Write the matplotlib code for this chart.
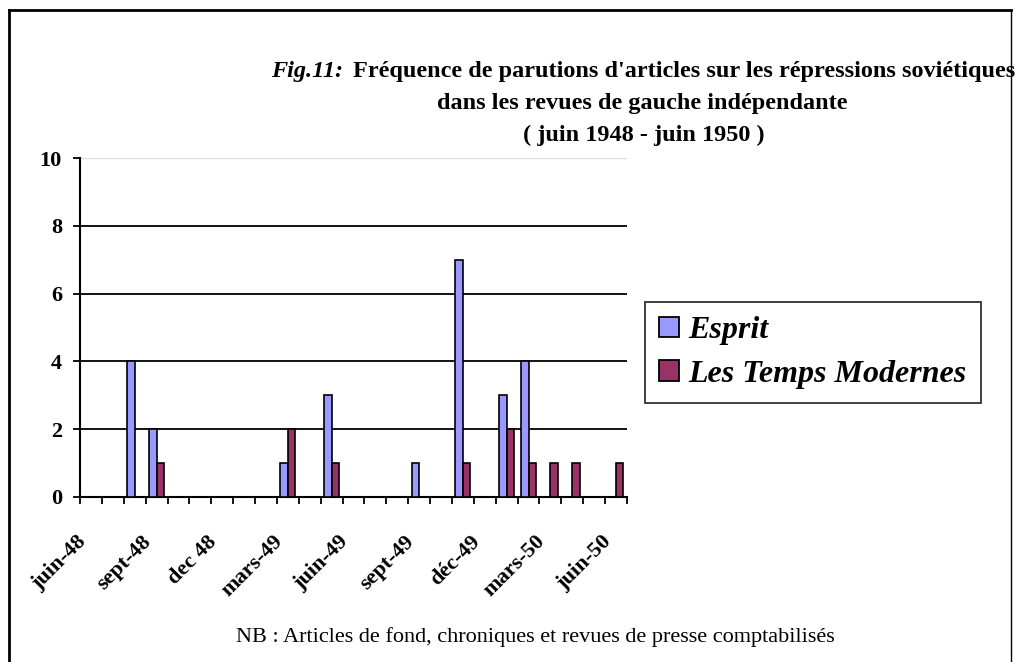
import matplotlib
matplotlib.use("Agg")
import matplotlib.pyplot as plt
from matplotlib.lines import Line2D
from matplotlib.transforms import ScaledTranslation
import numpy as np

months = ['juin-48', 'juil-48', 'août-48', 'sept-48', 'oct-48', 'nov-48', 'dec 48',
          'janv-49', 'févr-49', 'mars-49', 'avr-49', 'mai-49', 'juin-49', 'juil-49',
          'août-49', 'sept-49', 'oct-49', 'nov-49', 'déc-49', 'janv-50', 'févr-50',
          'mars-50', 'avr-50', 'mai-50', 'juin-50']
esprit = [0, 0, 4, 2, 0, 0, 0, 0, 0, 1, 0, 3, 0, 0, 0, 1, 0, 7, 0, 3, 4, 0, 0, 0, 0]
temps_modernes = [0, 0, 0, 1, 0, 0, 0, 0, 0, 2, 0, 1, 0, 0, 0, 0, 0, 1, 0, 2, 1, 1, 1, 0, 1]
label_step = 3
series_names = ['Esprit', 'Les Temps Modernes']

plt.rcParams['font.family'] = ['Liberation Serif', 'DejaVu Serif']

W, H = 1020, 662
fig = plt.figure(figsize=(W / 100, H / 100), dpi=100)
fig.patch.set_facecolor('white')

ax = fig.add_axes([80 / W, 1 - 497 / H, (627 - 80) / W, (497 - 158) / H])

n = len(months)
idx = np.arange(n)
bw = 0.34
b1 = ax.bar(idx + 0.5 - bw / 2, esprit, width=bw, color='#9999FF',
            edgecolor='black', linewidth=1.2, zorder=3, label=series_names[0])
b2 = ax.bar(idx + 0.5 + bw / 2, temps_modernes, width=bw, color='#993366',
            edgecolor='black', linewidth=1.2, zorder=3, label=series_names[1])

ax.set_xlim(0, n)
ax.set_ylim(0, 10)
ax.set_yticks(np.arange(0, 11, 2))
ax.set_yticklabels([str(v) for v in range(0, 11, 2)], fontsize=16, fontweight='bold')

ax.set_xticks(np.arange(0, n + 1))
ax.set_xticklabels([])
lab_pos = idx[::label_step] + 0.5
ax.set_xticks(lab_pos, minor=True)
ax.set_xticklabels([months[i] for i in idx[::label_step]], minor=True,
                   rotation=45, ha='right', va='center', rotation_mode='anchor',
                   fontsize=16, fontweight='bold')
ax.tick_params(axis='x', which='major', direction='out', length=5, width=1.3, color='black')
ax.tick_params(axis='x', which='minor', length=0, pad=30)
ax.tick_params(axis='y', which='major', direction='out', length=5, width=1.3, pad=8)
shift = ScaledTranslation(-8 / 100, 0, fig.dpi_scale_trans)
for lab in ax.get_xticklabels(minor=True):
    lab.set_transform(lab.get_transform() + shift)

ax.yaxis.grid(True, color='black', linewidth=1.3, zorder=1)
gl = ax.get_ygridlines()
gl[-1].set_color('#e0e0e0')
gl[-1].set_linewidth(1.0)
ax.set_axisbelow(True)

for s in ['top', 'right']:
    ax.spines[s].set_visible(False)
ax.spines['left'].set_linewidth(1.5)
ax.spines['bottom'].set_linewidth(1.5)

leg = fig.legend(handles=[b1, b2], labels=series_names, loc='upper left',
                 bbox_to_anchor=(645 / W, 1 - 302 / H),
                 prop={'family': 'Liberation Serif', 'weight': 'bold',
                       'style': 'italic', 'size': 23},
                 frameon=True, fancybox=False, shadow=False,
                 handlelength=0.6, handleheight=0.6, handletextpad=0.3,
                 borderpad=0.45, labelspacing=0.45, borderaxespad=0)
leg.get_frame().set_edgecolor('black')
leg.get_frame().set_linewidth(1.3)
for h in leg.legend_handles:
    h.set_linewidth(1.3)

# title
tsize = 17.5
t1b = fig.text(1015 / W, 1 - 72 / H,
               "Fréquence de parutions d'articles sur les répressions soviétiques",
               ha='right', va='center', fontsize=tsize, fontweight='bold')
fig.canvas.draw()
bb = t1b.get_window_extent()
fig.text((bb.x0 - 10) / W, 1 - 72 / H, "Fig.11:", ha='right', va='center',
         fontsize=tsize, fontweight='bold', style='italic')
fig.text(642 / W, 1 - 104 / H, "dans les revues de gauche indépendante",
         ha='center', va='center', fontsize=tsize, fontweight='bold')
fig.text(644 / W, 1 - 135 / H, "( juin 1948 - juin 1950 )",
         ha='center', va='center', fontsize=tsize, fontweight='bold')

fig.text(535 / W, 1 - 637 / H,
         "NB : Articles de fond, chroniques et revues de presse comptabilisés",
         ha='center', va='center', fontsize=16)

# outer border (open at bottom)
fig.add_artist(Line2D([9 / W, 9 / W], [0, 1 - 10 / H], transform=fig.transFigure,
                      color='black', linewidth=2.0))
fig.add_artist(Line2D([9 / W, 1011 / W], [1 - 10 / H, 1 - 10 / H], transform=fig.transFigure,
                      color='black', linewidth=2.0))
fig.add_artist(Line2D([1011 / W, 1011 / W], [0, 1 - 10 / H], transform=fig.transFigure,
                      color='black', linewidth=1.0))

fig.savefig('out.png', dpi=100, facecolor='white')
